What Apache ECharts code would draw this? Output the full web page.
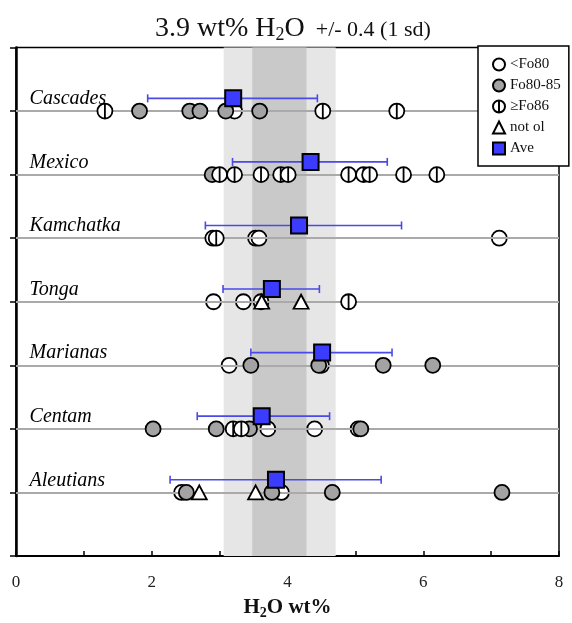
<!DOCTYPE html>
<html>
<head>
<meta charset="utf-8">
<script src="https://cdn.jsdelivr.net/npm/echarts@6/dist/echarts.min.js"></script>
<style>
  html, body { margin: 0; padding: 0; background: #fff; }
  #chart { width: 572px; height: 623px; }
</style>
</head>
<body>
<div id="chart"></div>
<script>
// Arc regions, listed top to bottom
const regions = ['Cascades', 'Mexico', 'Kamchatka', 'Tonga', 'Marianas', 'Centam', 'Aleutians'];

// Melt inclusion H2O (wt%) grouped by host olivine composition: [region, H2O]
const lowFo = [
  ['Cascades', 3.22],
  ['Kamchatka', 3.53], ['Kamchatka', 3.58], ['Kamchatka', 7.12],
  ['Tonga', 2.91], ['Tonga', 3.35], ['Tonga', 3.61],
  ['Marianas', 3.14], ['Marianas', 4.50],
  ['Centam', 3.71], ['Centam', 4.40], ['Centam', 5.04],
  ['Aleutians', 2.44], ['Aleutians', 3.91]
];
const midFo = [
  ['Cascades', 1.82], ['Cascades', 2.56], ['Cascades', 2.71], ['Cascades', 3.09], ['Cascades', 3.59],
  ['Mexico', 2.89],
  ['Marianas', 3.46], ['Marianas', 4.46], ['Marianas', 5.41], ['Marianas', 6.14],
  ['Centam', 2.02], ['Centam', 2.95], ['Centam', 3.44], ['Centam', 5.08],
  ['Aleutians', 2.51], ['Aleutians', 3.77], ['Aleutians', 4.66], ['Aleutians', 7.16]
];
const highFo = [
  ['Cascades', 1.31], ['Cascades', 4.52], ['Cascades', 5.61],
  ['Mexico', 3.00], ['Mexico', 3.22], ['Mexico', 3.61], ['Mexico', 3.90], ['Mexico', 4.01],
  ['Mexico', 4.90], ['Mexico', 5.12], ['Mexico', 5.21], ['Mexico', 5.71], ['Mexico', 6.20],
  ['Kamchatka', 2.90], ['Kamchatka', 2.95],
  ['Tonga', 4.90],
  ['Centam', 3.20], ['Centam', 3.32]
];
const notOl = [
  ['Tonga', 3.62], ['Tonga', 4.20],
  ['Aleutians', 2.70], ['Aleutians', 3.53]
];

// Regional averages with their 1 sd range
const aveH2O = [3.20, 4.34, 4.17, 3.77, 4.51, 3.62, 3.83];
const sdLow  = [1.94, 3.19, 2.79, 3.05, 3.46, 2.67, 2.27];
const sdHigh = [4.44, 5.47, 5.68, 4.47, 5.54, 4.62, 5.38];

// Global mean bands (1 sd inner, wider outer)
const bandInner = [3.48, 4.28];
const bandOuter = [3.06, 4.71];

// x-axis tick labels
const xTickLabels = ['0', '2', '4', '6', '8'];

const SERIF = "'Liberation Serif', 'DejaVu Serif', serif";
const rowOf = name => regions.length - regions.indexOf(name);
const AVE_LIFT = 0.2;   // averages sit just above each region line
const LABEL_LIFT = 0.19;

const toPts = arr => arr.map(([r, v]) => [v, rowOf(r)]);
const phiSymbol = 'path://M8,0A8,8 0 1 1 8,16A8,8 0 1 1 8,0ZM8,0L8,16';

const chart = echarts.init(document.getElementById('chart'), null, { renderer: 'canvas' });

const option = {
  animation: false,
  backgroundColor: '#fff',
  title: {
    left: 150,
    top: 8,
    text: '{a|3.9 wt% H}{s|2}{a|O}{b|  +/- 0.4 (1 sd)}',
    textStyle: {
      fontWeight: 'normal',
      rich: {
        a: { fontFamily: SERIF, fontSize: 28, fontWeight: 'normal', color: '#111' },
        s: { fontFamily: SERIF, fontSize: 18, fontWeight: 'normal', color: '#111', padding: [13, 0, 0, 0] },
        b: { fontFamily: SERIF, fontSize: 22, fontWeight: 'normal', color: '#111', padding: [4, 0, 0, 0] }
      }
    }
  },
  legend: {
    orient: 'vertical',
    left: 478,
    top: 46,
    z: 20,
    data: ['<Fo80', 'Fo80-85', '\u2265Fo86', 'not ol', 'Ave'],
    itemWidth: 12,
    itemHeight: 12,
    itemGap: 6,
    padding: [11, 8, 10, 14],
    borderColor: '#000',
    borderWidth: 1.5,
    backgroundColor: '#fff',
    textStyle: { fontFamily: SERIF, fontSize: 15, color: '#111', lineHeight: 14 },
    selectedMode: false
  },
  grid: {
    left: 16, right: 13, top: 47.5, bottom: 67,
    outerBoundsMode: 'none',
    containLabel: false,
    show: true, borderColor: '#000', borderWidth: 1.5
  },
  xAxis: {
    type: 'value', min: 0, max: 8, interval: 1,
    name: '{a|H}{s|2}{a|O wt%}',
    nameLocation: 'middle',
    nameGap: 40,
    nameTextStyle: {
      rich: {
        a: { fontFamily: SERIF, fontSize: 21, fontWeight: 'bold', color: '#111' },
        s: { fontFamily: SERIF, fontSize: 14, fontWeight: 'bold', color: '#111', padding: [10, 0, 0, 0] }
      }
    },
    axisLine: { lineStyle: { color: '#000', width: 2 } },
    axisTick: { inside: true, length: 5, lineStyle: { color: '#000', width: 1.5 } },
    axisLabel: {
      margin: 18,
      fontFamily: SERIF, fontSize: 17, color: '#222',
      formatter: v => (xTickLabels.includes(String(v)) ? String(v) : '')
    },
    splitLine: { show: false }
  },
  yAxis: {
    type: 'value', min: 0, max: 8, interval: 1,
    axisLine: { show: true, lineStyle: { color: '#000', width: 2.5 } },
    axisTick: { show: true, inside: false, length: 6, lineStyle: { color: '#000', width: 1.5 } },
    axisLabel: { show: false },
    splitLine: { show: false }
  },
  series: [
    {
      // shaded mean bands
      type: 'line', data: [], z: 1, silent: true,
      markArea: {
        silent: true,
        data: [
          [{ xAxis: bandOuter[0], itemStyle: { color: '#e6e6e6' } }, { xAxis: bandOuter[1] }],
          [{ xAxis: bandInner[0], itemStyle: { color: '#c9c9c9' } }, { xAxis: bandInner[1] }]
        ]
      }
    },
    {
      // one grey guide line per region
      type: 'line', data: [], z: 2, silent: true,
      markLine: {
        silent: true, symbol: 'none', label: { show: false },
        lineStyle: { color: '#aaaaaa', width: 2, type: 'solid' },
        data: regions.map(r => ({ yAxis: rowOf(r) }))
      }
    },
    {
      // region names
      type: 'scatter', z: 3, silent: true, symbolSize: 0,
      itemStyle: { opacity: 1 },
      data: regions.map(r => [0.2, rowOf(r) + LABEL_LIFT, r]),
      label: {
        show: true, position: 'right', distance: 0,
        formatter: p => p.data[2],
        fontFamily: SERIF, fontStyle: 'italic', fontSize: 20, color: '#000', opacity: 1
      }
    },
    {
      name: '<Fo80', type: 'scatter', z: 4, symbol: 'circle', symbolSize: 15,
      itemStyle: { color: '#fff', borderColor: '#000', borderWidth: 1.8, opacity: 1 },
      data: toPts(lowFo)
    },
    {
      name: 'Fo80-85', type: 'scatter', z: 5, symbol: 'circle', symbolSize: 15,
      itemStyle: { color: '#a3a3a3', borderColor: '#000', borderWidth: 1.8, opacity: 1 },
      data: toPts(midFo)
    },
    {
      name: '\u2265Fo86', type: 'scatter', z: 6, symbol: phiSymbol, symbolSize: 15,
      itemStyle: { color: '#fff', borderColor: '#000', borderWidth: 1.8, opacity: 1 },
      data: toPts(highFo)
    },
    {
      name: 'not ol', type: 'scatter', z: 7, symbol: 'triangle', symbolSize: [15, 14],
      itemStyle: { color: '#fff', borderColor: '#000', borderWidth: 1.8, opacity: 1 },
      data: toPts(notOl)
    },
    {
      // 1 sd bars around each regional average
      type: 'custom', z: 8, silent: true,
      data: regions.map((r, i) => [sdLow[i], sdHigh[i], rowOf(r) + AVE_LIFT]),
      renderItem: (params, api) => {
        const a = api.coord([api.value(0), api.value(2)]);
        const b = api.coord([api.value(1), api.value(2)]);
        const st = { stroke: '#4a4ae6', lineWidth: 1.6 };
        return {
          type: 'group',
          children: [
            { type: 'line', shape: { x1: a[0], y1: a[1], x2: b[0], y2: b[1] }, style: st },
            { type: 'line', shape: { x1: a[0], y1: a[1] - 4, x2: a[0], y2: a[1] + 4 }, style: st },
            { type: 'line', shape: { x1: b[0], y1: b[1] - 4, x2: b[0], y2: b[1] + 4 }, style: st }
          ]
        };
      }
    },
    {
      name: 'Ave', type: 'scatter', z: 9, symbol: 'rect', symbolSize: 16,
      itemStyle: { color: '#3c3cff', borderColor: '#000', borderWidth: 2, opacity: 1 },
      data: regions.map((r, i) => [aveH2O[i], rowOf(r) + AVE_LIFT])
    }
  ]
};

chart.setOption(option);
</script>
</body>
</html>
